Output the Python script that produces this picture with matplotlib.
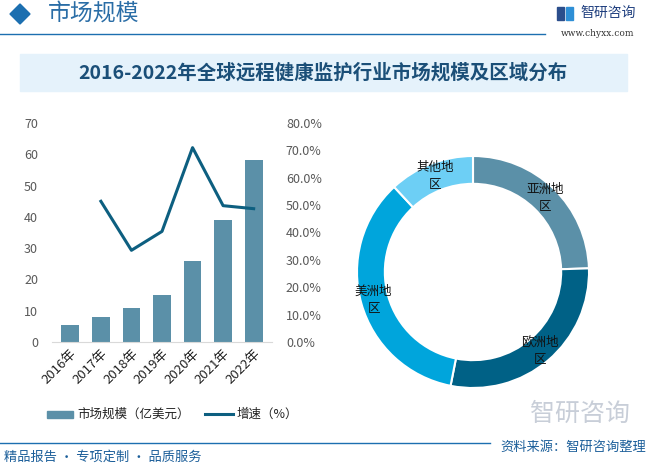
import numpy as np
import matplotlib.pyplot as plt
from matplotlib.patches import Rectangle, Polygon
from matplotlib.lines import Line2D

plt.rcParams['font.family'] = ['Noto Sans CJK SC', 'DejaVu Sans']

# data
years = ['2016年', '2017年', '2018年', '2019年', '2020年', '2021年', '2022年']
market_size = [5.3, 8.0, 10.9, 15.0, 25.8, 38.9, 58.1]      # 亿美元
growth = [np.nan, 51.4, 33.5, 40.4, 71.0, 49.8, 48.7]        # %
regions = ['亚洲地\n区', '欧洲地\n区', '美洲地\n区', '其他地\n区']
region_share = [24.5, 28.6, 35.0, 11.9]

bar_color = '#5B90A8'
line_color = '#0D5F80'
pie_colors = ['#5B90A8', '#006186', '#00A5DC', '#6DCFF5']

W, H = 650, 466
fig = plt.figure(figsize=(W / 100, H / 100), dpi=100)


def box(x0, y0, x1, y1):
    # pixel box (top-left origin) -> figure fraction
    return [x0 / W, 1 - y1 / H, (x1 - x0) / W, (y1 - y0) / H]


def fy(y):
    return 1 - y / H


# header
fig.add_artist(Polygon([[10 / W, fy(14)], [20 / W, fy(4)], [30 / W, fy(14)], [20 / W, fy(24)]],
                       closed=True, color='#1C6FB0', transform=fig.transFigure))
fig.text(48 / W, fy(14), '市场规模', fontsize=16.5, color='#2A6DA6', va='center', ha='left')
fig.add_artist(Line2D([0, 545 / W], [fy(34), fy(34)], color='#1C6FB0', lw=1, transform=fig.transFigure))
fig.add_artist(Rectangle((557 / W, fy(20)), 7 / W, 13 / H, color='#2B4E8C', transform=fig.transFigure))
fig.add_artist(Rectangle((566 / W, fy(20)), 7 / W, 13 / H, color='#2E8FD6', transform=fig.transFigure))
fig.text(580 / W, fy(13), '智研咨询', fontsize=10, color='#1F3F7F', va='center', ha='left')
fig.text(634 / W, fy(33), 'www.chyxx.com', fontsize=6.5, color='#333333', va='center', ha='right',
         family='DejaVu Serif')

# title band
fig.add_artist(Rectangle((20 / W, fy(91)), 607 / W, 37 / H, color='#E5F2FB', transform=fig.transFigure))
fig.text(323 / W, fy(73), '2016-2022年全球远程健康监护行业市场规模及区域分布', fontsize=14,
         fontweight='bold', color='#1B4F78', ha='center', va='center')

# bar + line chart
ax = fig.add_axes(box(52, 123, 272, 342))
x = np.arange(len(years))
ax.bar(x, market_size, width=0.58, color=bar_color)
ax.set_ylim(0, 70)
ax.set_xlim(-0.6, len(years) - 0.4)
ax.set_yticks(range(0, 71, 10))
ax.set_xticks(x)
ax.set_xticklabels(years, rotation=45, ha='right', rotation_mode='anchor', fontsize=9.5, color='#222222')
for s in ['top', 'right', 'left']:
    ax.spines[s].set_visible(False)
ax.spines['bottom'].set_color('#D9D9D9')
ax.tick_params(axis='y', length=0, labelsize=9, labelcolor='#595959', pad=10)
ax.tick_params(axis='x', length=0, pad=4)

ax2 = ax.twinx()
ax2.plot(x, np.array(growth) / 100, color=line_color, lw=2.2)
ax2.set_ylim(0, 0.8)
ax2.set_yticks(np.arange(0, 0.81, 0.1))
ax2.set_yticklabels([f'{v:.1f}%' for v in np.arange(0, 81, 10)])
for s in ax2.spines.values():
    s.set_visible(False)
ax2.tick_params(axis='y', length=0, labelsize=9, labelcolor='#595959', pad=10)

# legend
fig.add_artist(Rectangle((47 / W, fy(418)), 26 / W, 7 / H, color=bar_color, transform=fig.transFigure))
fig.text(77 / W, fy(414), '市场规模（亿美元）', fontsize=9, color='#222222', va='center')
fig.add_artist(Line2D([205 / W, 233 / W], [fy(414), fy(414)], color=line_color, lw=2.2,
                      transform=fig.transFigure))
fig.text(237 / W, fy(414), '增速（%）', fontsize=9, color='#222222', va='center')

# donut
R = 116
axp = fig.add_axes(box(473 - R, 272 - R, 473 + R, 272 + R))
wedges, _ = axp.pie(region_share, colors=pie_colors, startangle=90, counterclock=False,
                    wedgeprops=dict(width=0.24, edgecolor='white', linewidth=1.5))
for w, lab in zip(wedges, regions):
    ang = np.deg2rad((w.theta1 + w.theta2) / 2)
    axp.text(0.89 * np.cos(ang), 0.89 * np.sin(ang), lab, ha='center', va='center',
             fontsize=9, color='#111111', linespacing=1.4)
axp.set_xlim(-1, 1)
axp.set_ylim(-1, 1)
axp.set_aspect('equal')

# footer
fig.add_artist(Line2D([0, 490 / W], [fy(443), fy(443)], color='#1C6FB0', lw=1,
                      transform=fig.transFigure))
fig.text(4 / W, fy(457), '精品报告 · 专项定制 · 品质服务', fontsize=9.5, color='#1C5F9A', va='center')
fig.text(646 / W, fy(447), '资料来源：智研咨询整理', fontsize=9.5, color='#1C5F9A', va='center', ha='right')
fig.text(630 / W, fy(414), '智研咨询', fontsize=18, color='#C8CED8', va='center', ha='right')

fig.savefig('out.png', dpi=100)
